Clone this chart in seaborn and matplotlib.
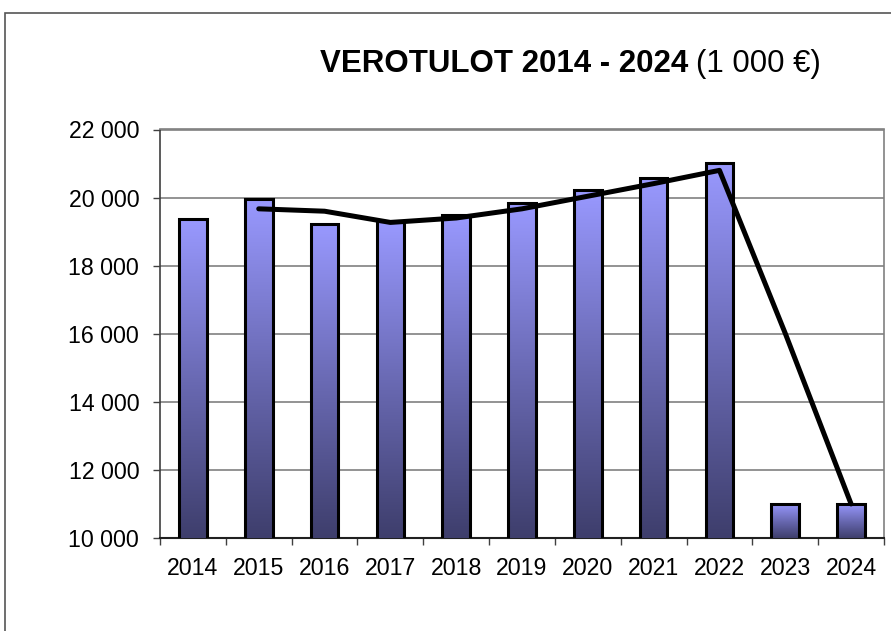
import matplotlib
matplotlib.use('Agg')
import matplotlib.pyplot as plt
import matplotlib.patches as mpatches
from matplotlib.colors import LinearSegmentedColormap
from matplotlib.ticker import FuncFormatter
import numpy as np
import pandas as pd
import seaborn as sns

# tiedot (1 000 €)
years = ['2014', '2015', '2016', '2017', '2018', '2019', '2020', '2021', '2022', '2023', '2024']
tax_income = [19380, 19960, 19235, 19300, 19490, 19845, 20235, 20580, 21020, 11000, 11000]
trend = [np.nan, 19670, 19600, 19270, 19400, 19670, 20040, 20410, 20800, 16010, 11000]

sns.set_theme(style='white')
plt.rcParams['font.family'] = ['Liberation Sans', 'DejaVu Sans']

W, H = 891, 631
fig = plt.figure(figsize=(W / 100, H / 100), dpi=100)
ax = fig.add_axes([160 / W, 1 - 538 / H, (884 - 160) / W, (538 - 129.5) / H])

df = pd.DataFrame({'year': years, 'value': tax_income})
sns.barplot(data=df, x='year', y='value', width=0.42, color='#9999ff',
            edgecolor='black', linewidth=2.2, ax=ax, zorder=3)

# liukuväri palkkeihin: vaalea ylhäällä, tumma alhaalla
ymin, ymax = 10000, 22000
cmap = LinearSegmentedColormap.from_list('bar', ['#3e3e6c', '#6a6ab4', '#9999ff'])
grad = np.linspace(0, 1, 256).reshape(-1, 1)
for patch in ax.patches:
    x0 = patch.get_x()
    w = patch.get_width()
    top = patch.get_y() + patch.get_height()
    ax.imshow(grad, extent=[x0, x0 + w, ymin, top], origin='lower', cmap=cmap,
              aspect='auto', zorder=3.5, interpolation='bilinear')
    patch.set_facecolor('none')
    patch.set_zorder(4)

tdf = pd.DataFrame({'pos': np.arange(len(years)), 'trend': trend}).dropna()
sns.lineplot(data=tdf, x='pos', y='trend', color='black', linewidth=3.6, ax=ax, zorder=5)

ax.set_xlim(-0.5, len(years) - 0.5)
ax.set_ylim(ymin, ymax)
ax.set_yticks(np.arange(ymin, ymax + 1, 2000))
ax.yaxis.set_major_formatter(FuncFormatter(lambda v, p: f'{int(v):,}'.replace(',', ' ')))
ax.set_xlabel('')
ax.set_ylabel('')

ax.yaxis.grid(True, color='#808080', linewidth=1.2)
ax.xaxis.grid(False)
ax.set_axisbelow(True)

for s in ['top', 'right']:
    ax.spines[s].set_color('#808080')
    ax.spines[s].set_linewidth(1.2)
ax.spines['left'].set_color('#404040')
ax.spines['left'].set_linewidth(1.2)
ax.spines['bottom'].set_color('#202020')
ax.spines['bottom'].set_linewidth(1.5)

ax.tick_params(axis='y', which='major', direction='out', length=5, width=1,
               color='#404040', pad=10, labelsize=16.7, left=True)
ax.tick_params(axis='x', which='major', length=0, pad=14, labelsize=16.7)
ax.set_xticks(np.arange(-0.5, len(years), 1), minor=True)
ax.tick_params(axis='x', which='minor', direction='out', length=5, width=1,
               color='#404040', bottom=True)
for lab in ax.get_xticklabels() + ax.get_yticklabels():
    lab.set_color('black')

# ulkoreunus
fig.patches.append(mpatches.Rectangle((5 / W, -0.1), 2, 1 - 13 / H + 0.1,
                                      transform=fig.transFigure, fill=False,
                                      edgecolor='#555555', linewidth=1.2))

# otsikko: lihavoitu osa + normaali osa
t1 = fig.text(320 / W, 1 - 72 / H, 'VEROTULOT 2014 - 2024', fontsize=22.5,
              fontweight='bold', va='baseline', ha='left', color='black')
fig.canvas.draw()
bb = t1.get_window_extent()
fig.text((bb.x1 + 8) / W, 1 - 72 / H, '(1 000 €)', fontsize=22.5,
         va='baseline', ha='left', color='black')

fig.savefig('out.png', dpi=100)
